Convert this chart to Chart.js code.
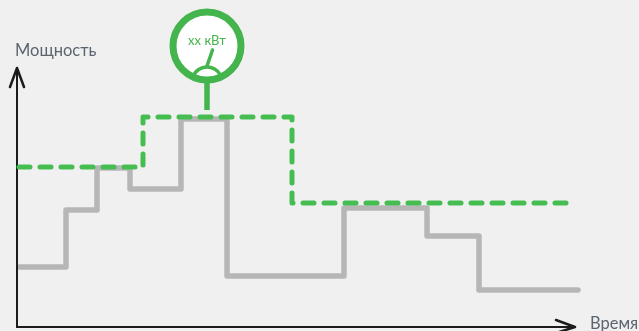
<!DOCTYPE html>
<html lang="ru">
<head>
    <meta charset="UTF-8">
    <title>Мощность</title>
    <script src="https://cdn.jsdelivr.net/npm/chart.js"></script>
    <style>
        html, body { margin: 0; padding: 0; background: #f0f0f0; overflow: hidden; }
        canvas { display: block; }
    </style>
</head>
<body>
    <canvas id="powerChart" width="639" height="331"></canvas>

    <script>
        const times = [2, 49, 80, 113, 164, 210, 327, 410, 462, 561];
        const power = [60, 117, 159, 138, 208, 51, 119, 91, 37, 37];
        const limitTimes = [2, 126, 275, 558];
        const limitPower = [160, 210, 124, 124];
        const meterTime = [190, 190];
        const meterPower = [217, 281];
        const axisTimes = [0, 0, 558];
        const axisPower = [259, 0, 0];

        const yLabel = 'Мощность';
        const xLabel = 'Время';
        const meterLabel = 'хх кВт';

        const GREEN = '#43b54c';
        const toPoints = (xs, ys) => xs.map((x, i) => ({ x: x, y: ys[i] }));

        // arrows, needle and captions, hung on the scales
        const decorations = {
            id: 'decorations',
            afterDatasetsDraw(chart) {
                const c = chart.ctx;
                const sx = chart.scales.x;
                const sy = chart.scales.y;
                const mx = sx.getPixelForValue(meterTime[1]);
                const my = sy.getPixelForValue(meterPower[1]);

                c.save();
                c.lineCap = 'round';
                c.lineJoin = 'round';

                // axis arrow heads
                c.strokeStyle = '#1c1c1c';
                c.lineWidth = 2.5;
                c.beginPath();
                c.moveTo(sx.left - 7, sy.top + 19);
                c.lineTo(sx.left, sy.top);
                c.lineTo(sx.left + 7, sy.top + 19);
                c.moveTo(sx.right - 19, sy.bottom - 7);
                c.lineTo(sx.right, sy.bottom);
                c.lineTo(sx.right - 19, sy.bottom + 6);
                c.stroke();

                // dial and needle
                c.strokeStyle = GREEN;
                c.lineWidth = 3.5;
                c.beginPath();
                c.arc(mx, my + 36, 15, Math.PI * 1.17, Math.PI * 1.83);
                c.stroke();
                c.beginPath();
                c.moveTo(mx + 5.5, my + 4);
                c.lineTo(mx, my + 20);
                c.stroke();

                c.fillStyle = GREEN;
                c.font = '13px Lato';
                c.textAlign = 'center';
                c.textBaseline = 'middle';
                c.fillText(meterLabel, mx, my - 5);

                c.fillStyle = '#5b6570';
                c.font = '16.5px Lato';
                c.textAlign = 'left';
                c.fillText(yLabel, 15, 51);
                c.fillText(xLabel, 590, 324);
                c.restore();
            }
        };

        new Chart(document.getElementById('powerChart'), {
            type: 'line',
            data: {
                datasets: [
                    {
                        // meter on its stem
                        data: toPoints(meterTime, meterPower),
                        borderColor: GREEN,
                        borderWidth: 5.5,
                        backgroundColor: '#ffffff',
                        pointBackgroundColor: '#ffffff',
                        pointBorderColor: GREEN,
                        pointBorderWidth: 7,
                        pointRadius: [0, 34],
                        clip: false,
                        order: 1
                    },
                    {
                        data: toPoints(limitTimes, limitPower),
                        stepped: 'before',
                        borderColor: '#46bd50',
                        borderWidth: 5,
                        borderDash: [11, 10],
                        borderCapStyle: 'round',
                        borderJoinStyle: 'round',
                        pointRadius: 0,
                        clip: false,
                        order: 2
                    },
                    {
                        data: toPoints(axisTimes, axisPower),
                        borderColor: '#1c1c1c',
                        borderWidth: 2,
                        pointRadius: 0,
                        clip: false,
                        order: 3
                    },
                    {
                        data: toPoints(times, power),
                        stepped: 'before',
                        borderColor: '#b6b6b6',
                        borderWidth: 5.5,
                        borderCapStyle: 'round',
                        borderJoinStyle: 'round',
                        pointRadius: 0,
                        clip: false,
                        order: 4
                    }
                ]
            },
            options: {
                responsive: false,
                animation: false,
                events: [],
                layout: { autoPadding: false, padding: { left: 17, top: 68, right: 64, bottom: 4 } },
                plugins: {
                    legend: { display: false },
                    tooltip: { enabled: false },
                    title: { display: false }
                },
                scales: {
                    x: { type: 'linear', display: false, min: 0, max: 558 },
                    y: { type: 'linear', display: false, min: 0, max: 259 }
                }
            },
            plugins: [decorations]
        });
    </script>
</body>
</html>
